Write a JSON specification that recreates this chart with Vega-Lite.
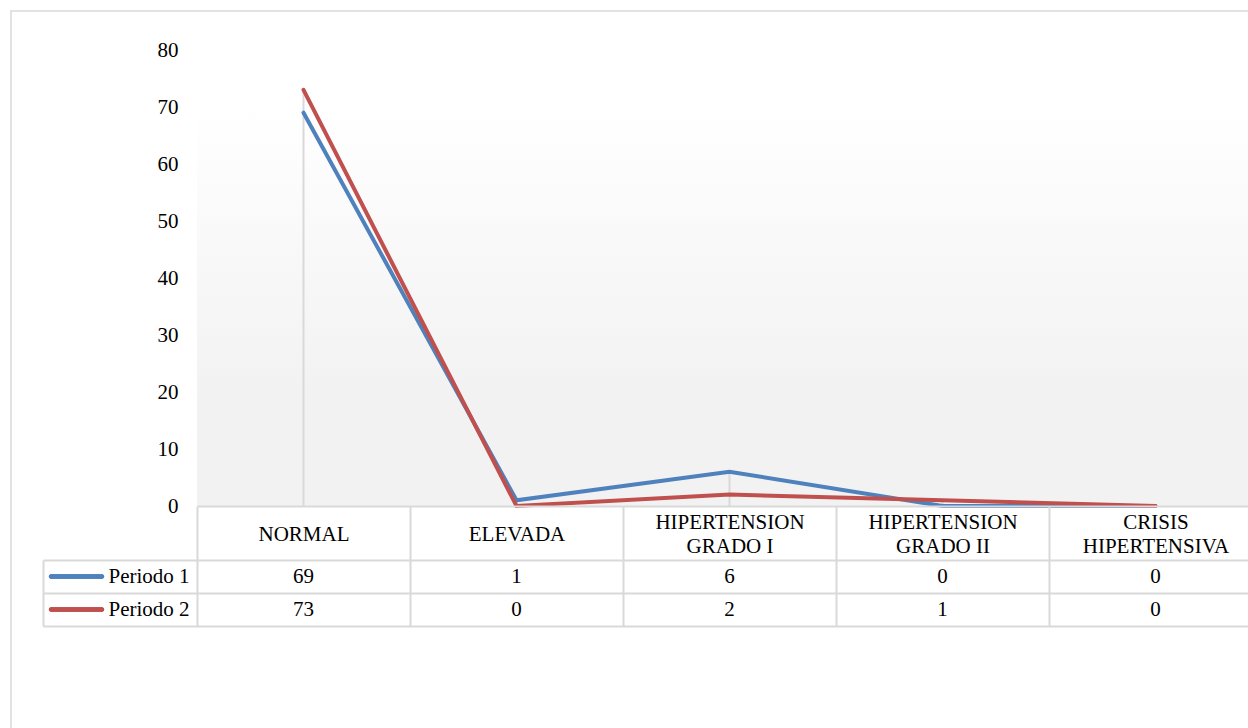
{
  "$schema": "https://vega.github.io/schema/vega-lite/v6.json",
  "width": 1245,
  "height": 725,
  "autosize": {"type": "none"},
  "padding": {"left": 11, "top": 11, "right": 0, "bottom": 0},
  "background": "#ffffff",
  "config": {"view": {"stroke": "#d9d9d9", "strokeWidth": 1.5}, "font": "Liberation Serif"},
  "data": {
    "values": [
      {"cat": "NORMAL", "serie": "Periodo 1", "value": 69},
      {"cat": "ELEVADA", "serie": "Periodo 1", "value": 1},
      {"cat": "HIPERTENSION GRADO I", "serie": "Periodo 1", "value": 6},
      {"cat": "HIPERTENSION GRADO II", "serie": "Periodo 1", "value": 0},
      {"cat": "CRISIS HIPERTENSIVA", "serie": "Periodo 1", "value": 0},
      {"cat": "NORMAL", "serie": "Periodo 2", "value": 73},
      {"cat": "ELEVADA", "serie": "Periodo 2", "value": 0},
      {"cat": "HIPERTENSION GRADO I", "serie": "Periodo 2", "value": 2},
      {"cat": "HIPERTENSION GRADO II", "serie": "Periodo 2", "value": 1},
      {"cat": "CRISIS HIPERTENSIVA", "serie": "Periodo 2", "value": 0}
    ]
  },
  "layer": [
    {
      "layer": [
        {
          "mark": {
            "type": "rect",
            "color": {
              "gradient": "linear", "x1": 0, "y1": 0, "x2": 0, "y2": 1,
              "stops": [
                {"offset": 0, "color": "#ffffff"},
                {"offset": 0.72, "color": "#f2f2f2"},
                {"offset": 1, "color": "#f2f2f2"}
              ]
            }
          },
          "encoding": {
            "x": {
              "field": "cat", "type": "nominal",
              "scale": {"domain": ["NORMAL", "ELEVADA", "HIPERTENSION GRADO I", "HIPERTENSION GRADO II", "CRISIS HIPERTENSIVA"], "range": [186, 1251], "paddingInner": 0, "paddingOuter": 0},
              "axis": {"orient": "bottom", "offset": -230, "title": null, "grid": false, "domainColor": "#d9d9d9", "domainWidth": 2, "tickColor": "#d9d9d9", "tickWidth": 2, "tickSize": 120, "tickBand": "extent", "labelFont": "Liberation Serif", "labelFontSize": 21, "labelColor": "#000000", "labelAngle": 0, "labelAlign": "center", "labelBaseline": "middle", "labelPadding": -104, "labelLineHeight": 12, "labelLimit": 0, "labelOverlap": false, "labelExpr": "indexof(datum.label, ' ') > 0 ? [substring(datum.label, 0, indexof(datum.label, ' ')), '\u200b', substring(datum.label, indexof(datum.label, ' ') + 1)] : ['\u200b', datum.label]"}
            },
            "y": {
              "datum": 70, "type": "quantitative",
              "scale": {"domain": [0, 80], "range": [495, 39], "nice": false, "zero": true},
              "axis": {"orient": "left", "offset": -186, "title": null, "domain": false, "ticks": false, "grid": false, "values": [0, 10, 20, 30, 40, 50, 60, 70, 80], "labelFont": "Liberation Serif", "labelFontSize": 21, "labelColor": "#000000", "labelPadding": 19}
            },
            "y2": {"datum": 0}
          }
        },
        {
          "transform": [{"aggregate": [{"op": "max", "field": "value", "as": "maxv"}], "groupby": ["cat"]}],
          "mark": {"type": "rule", "color": "#d9d9d9", "strokeWidth": 2},
          "encoding": {
            "x": {
              "field": "cat", "type": "nominal",
              "scale": {"domain": ["NORMAL", "ELEVADA", "HIPERTENSION GRADO I", "HIPERTENSION GRADO II", "CRISIS HIPERTENSIVA"], "range": [186, 1251], "paddingInner": 0, "paddingOuter": 0},
              "axis": {"orient": "bottom", "offset": -230, "title": null, "grid": false, "domainColor": "#d9d9d9", "domainWidth": 2, "tickColor": "#d9d9d9", "tickWidth": 2, "tickSize": 120, "tickBand": "extent", "labelFont": "Liberation Serif", "labelFontSize": 21, "labelColor": "#000000", "labelAngle": 0, "labelAlign": "center", "labelBaseline": "middle", "labelPadding": -104, "labelLineHeight": 12, "labelLimit": 0, "labelOverlap": false, "labelExpr": "indexof(datum.label, ' ') > 0 ? [substring(datum.label, 0, indexof(datum.label, ' ')), '\u200b', substring(datum.label, indexof(datum.label, ' ') + 1)] : ['\u200b', datum.label]"}
            },
            "y": {
              "field": "maxv", "type": "quantitative",
              "scale": {"domain": [0, 80], "range": [495, 39], "nice": false, "zero": true},
              "axis": {"orient": "left", "offset": -186, "title": null, "domain": false, "ticks": false, "grid": false, "values": [0, 10, 20, 30, 40, 50, 60, 70, 80], "labelFont": "Liberation Serif", "labelFontSize": 21, "labelColor": "#000000", "labelPadding": 19}
            },
            "y2": {"datum": 0}
          }
        },
        {
          "mark": {"type": "line", "strokeWidth": 4, "strokeCap": "round"},
          "encoding": {
            "x": {
              "field": "cat", "type": "nominal",
              "scale": {"domain": ["NORMAL", "ELEVADA", "HIPERTENSION GRADO I", "HIPERTENSION GRADO II", "CRISIS HIPERTENSIVA"], "range": [186, 1251], "paddingInner": 0, "paddingOuter": 0},
              "axis": {"orient": "bottom", "offset": -230, "title": null, "grid": false, "domainColor": "#d9d9d9", "domainWidth": 2, "tickColor": "#d9d9d9", "tickWidth": 2, "tickSize": 120, "tickBand": "extent", "labelFont": "Liberation Serif", "labelFontSize": 21, "labelColor": "#000000", "labelAngle": 0, "labelAlign": "center", "labelBaseline": "middle", "labelPadding": -104, "labelLineHeight": 12, "labelLimit": 0, "labelOverlap": false, "labelExpr": "indexof(datum.label, ' ') > 0 ? [substring(datum.label, 0, indexof(datum.label, ' ')), '\u200b', substring(datum.label, indexof(datum.label, ' ') + 1)] : ['\u200b', datum.label]"}
            },
            "y": {
              "field": "value", "type": "quantitative",
              "scale": {"domain": [0, 80], "range": [495, 39], "nice": false, "zero": true},
              "axis": {"orient": "left", "offset": -186, "title": null, "domain": false, "ticks": false, "grid": false, "values": [0, 10, 20, 30, 40, 50, 60, 70, 80], "labelFont": "Liberation Serif", "labelFontSize": 21, "labelColor": "#000000", "labelPadding": 19}
            },
            "color": {"field": "serie", "type": "nominal", "scale": {"domain": ["Periodo 1", "Periodo 2"], "range": ["#4f81bd", "#c0504d"]}, "legend": null}
          }
        }
      ]
    },
    {
      "layer": [
        {
          "mark": {"type": "text", "font": "Liberation Serif", "fontSize": 21, "color": "#000000"},
          "encoding": {
            "x": {
              "field": "cat", "type": "nominal",
              "scale": {"domain": ["NORMAL", "ELEVADA", "HIPERTENSION GRADO I", "HIPERTENSION GRADO II", "CRISIS HIPERTENSIVA"], "range": [186, 1251], "paddingInner": 0, "paddingOuter": 0},
              "axis": null
            },
            "y": {
              "field": "serie", "type": "nominal",
              "scale": {"domain": ["Periodo 1", "Periodo 2"], "range": [549, 615], "paddingInner": 0, "paddingOuter": 0},
              "axis": {"orient": "right", "offset": -1213, "title": null, "grid": false, "domainColor": "#d9d9d9", "domainWidth": 2, "tickColor": "#d9d9d9", "tickWidth": 2, "tickSize": 1219, "tickBand": "extent", "labelFont": "Liberation Serif", "labelFontSize": 21, "labelColor": "#000000", "labelAlign": "left", "labelBaseline": "middle", "labelPadding": -1154, "labelLimit": 0}
            },
            "text": {"field": "value", "type": "quantitative"}
          }
        },
        {
          "mark": {"type": "rule", "strokeWidth": 4, "strokeCap": "round"},
          "encoding": {
            "x": {"datum": 0, "type": "quantitative", "scale": {"domain": [0, 1], "range": [40, 91]}, "axis": null},
            "x2": {"datum": 1},
            "y": {
              "field": "serie", "type": "nominal",
              "scale": {"domain": ["Periodo 1", "Periodo 2"], "range": [549, 615], "paddingInner": 0, "paddingOuter": 0},
              "axis": {"orient": "right", "offset": -1213, "title": null, "grid": false, "domainColor": "#d9d9d9", "domainWidth": 2, "tickColor": "#d9d9d9", "tickWidth": 2, "tickSize": 1219, "tickBand": "extent", "labelFont": "Liberation Serif", "labelFontSize": 21, "labelColor": "#000000", "labelAlign": "left", "labelBaseline": "middle", "labelPadding": -1154, "labelLimit": 0}
            },
            "color": {"field": "serie", "type": "nominal", "scale": {"domain": ["Periodo 1", "Periodo 2"], "range": ["#4f81bd", "#c0504d"]}, "legend": null}
          }
        }
      ],
      "resolve": {"scale": {"x": "independent"}}
    }
  ],
  "resolve": {"scale": {"x": "independent", "y": "independent"}}
}
